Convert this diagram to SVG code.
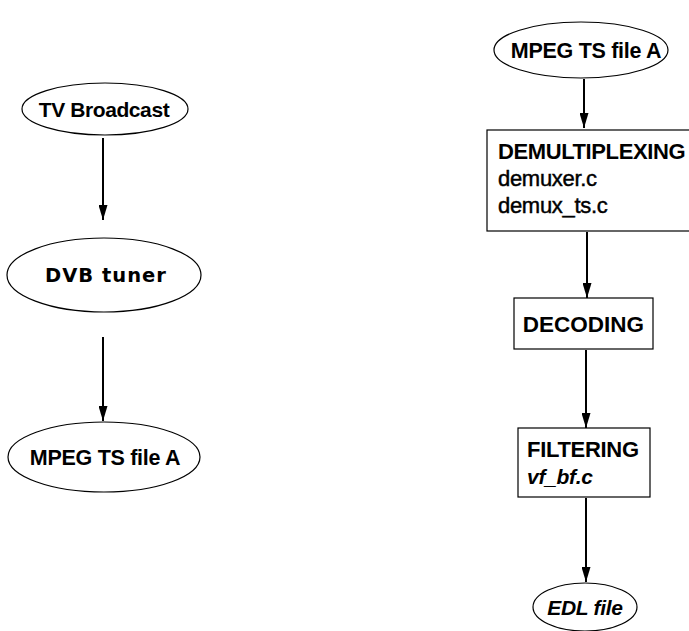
<svg xmlns="http://www.w3.org/2000/svg" width="689" height="631" viewBox="0 0 689 631">
<style>
.shape{fill:#fff;stroke:#000;stroke-width:1.2}
.t{font-family:"Liberation Sans",Arial,sans-serif;font-weight:bold;font-size:22px;fill:#000;letter-spacing:-0.3px}
.r{font-weight:normal;stroke:#000;stroke-width:0.45px}
.i{font-style:italic}
.c{text-anchor:middle}
.edge{stroke:#000;stroke-width:2;fill:none;marker-end:url(#ah)}
</style>
<defs>
<marker id="ah" markerWidth="15" markerHeight="9" refX="15" refY="4.5" orient="auto" markerUnits="userSpaceOnUse" viewBox="0 0 15 9">
<path d="M0,0 L15,4.5 L0,9 Z" fill="#000"/>
</marker>
</defs>
<rect width="689" height="631" fill="#fff"/>
<g id="connectors">
<line class="edge" x1="103" y1="138" x2="103" y2="220"/>
<line class="edge" x1="103" y1="337" x2="103" y2="421"/>
<line class="edge" x1="584" y1="79" x2="584" y2="128"/>
<line class="edge" x1="587" y1="232" x2="587" y2="298"/>
<line class="edge" x1="586" y1="350" x2="586" y2="428"/>
<line class="edge" x1="586" y1="498" x2="586" y2="582"/>
</g>
<g id="tv-broadcast">
<ellipse class="shape" cx="105" cy="109" rx="83" ry="26"/>
<text class="t c" x="104" y="116.5" style="font-size:21px;letter-spacing:-0.4px">TV Broadcast</text>
</g>
<g id="dvb-tuner">
<ellipse class="shape" cx="104" cy="275" rx="97" ry="37"/>
<text class="c" x="106" y="282" style="font-family:'DejaVu Sans',sans-serif;font-weight:bold;font-size:19.5px;letter-spacing:1px">DVB tuner</text>
</g>
<g id="mpeg-left">
<ellipse class="shape" cx="104" cy="457" rx="96" ry="35"/>
<text class="t c" x="105" y="465" style="font-size:21.5px">MPEG TS file A</text>
</g>
<g id="mpeg-right">
<ellipse class="shape" cx="581" cy="50" rx="87" ry="28"/>
<text class="t c" x="586" y="58" style="font-size:21.5px">MPEG TS file A</text>
</g>
<g id="demultiplexing">
<rect class="shape" x="487" y="130" width="220" height="101"/>
<text class="t" x="498" y="159" style="letter-spacing:-0.4px">DEMULTIPLEXING</text>
<text class="t r" x="498" y="186">demuxer.c</text>
<text class="t r" x="498" y="213">demux_ts.c</text>
</g>
<g id="decoding">
<rect class="shape" x="514" y="298" width="139" height="51"/>
<text class="t c" x="583.5" y="331.5" style="font-size:22.5px;letter-spacing:0">DECODING</text>
</g>
<g id="filtering">
<rect class="shape" x="518" y="428" width="132" height="69"/>
<text class="t" x="527" y="457">FILTERING</text>
<text class="t i" x="527" y="484" style="font-size:21px">vf_bf.c</text>
</g>
<g id="edl-file">
<ellipse class="shape" cx="585" cy="607" rx="52" ry="24"/>
<text class="t i c" x="585" y="614.5" style="font-size:21px">EDL file</text>
</g>
</svg>
